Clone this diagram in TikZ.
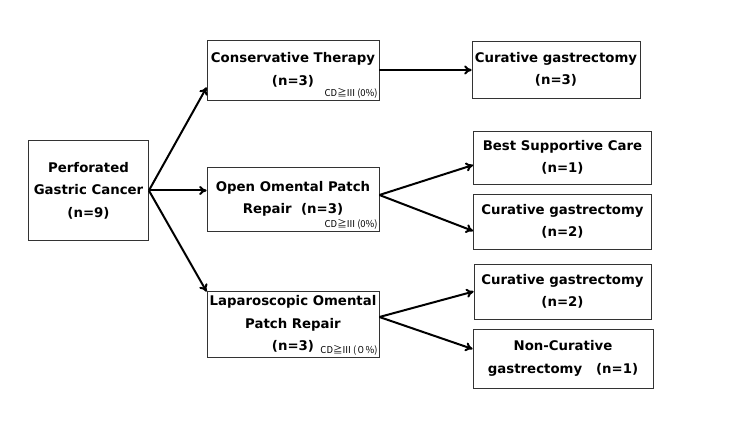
\documentclass[tikz,border=0pt]{standalone}
\usepackage{fontspec}
\setmainfont{DejaVu Sans}
\newfontfamily\jpfont{Noto Sans CJK JP}
\usetikzlibrary{arrows.meta}
\definecolor{edge}{HTML}{333333}
\tikzset{
  box/.style={draw=edge, line width=0.8pt, align=center, inner sep=0pt, font=\bfseries\fontsize{13.3}{22.5}\selectfont},
  flow/.style={-{To[length=2.6mm,width=3.2mm]}, draw=black, line width=2pt},
  cd/.style={font=\jpfont\fontsize{9.5}{10}\selectfont, anchor=south east, inner sep=1.5pt},
}
\begin{document}
\begin{tikzpicture}[x=1pt,y=-1pt]
\useasboundingbox (0,0) rectangle (750,422);
% first column
\node[box, minimum width=120pt, minimum height=100pt] (pgc) at (88.5,190.5) {Perforated\\Gastric Cancer\\(n=9)};
% second column
\node[box, minimum width=172pt, minimum height=60pt] (ct) at (293,70) {Conservative Therapy\\(n=3)};
\node[box, minimum width=172pt, minimum height=64pt] (oopr) at (293,199) {Open Omental Patch\\Repair\ \ (n=3)};
\node[box, minimum width=172pt, minimum height=66pt] (lopr) at (293,324) {Laparoscopic Omental\\Patch Repair\\(n=3)};
\node[cd] at (ct.south east) {CD≧III (0\%)};
\node[cd] at (oopr.south east) {CD≧III (0\%)};
\node[cd] at (lopr.south east) {CD≧III (０\%)};
% third column
\node[box, minimum width=168pt, minimum height=57pt] (cg1) at (556,69.5) {Curative gastrectomy\\(n=3)};
\node[box, minimum width=178pt, minimum height=53pt] (bsc) at (562.5,157.5) {Best Supportive Care\\(n=1)};
\node[box, minimum width=178pt, minimum height=55pt] (cg2) at (562.5,221.5) {Curative gastrectomy\\(n=2)};
\node[box, minimum width=177pt, minimum height=55pt] (cg3) at (562.5,291.5) {Curative gastrectomy\\(n=2)};
\node[box, minimum width=180pt, minimum height=59pt] (ncg) at (563,358.5) {Non-Curative\\gastrectomy\ \ \ (n=1)};
% arrows
\draw[flow] (pgc.east) -- ([yshift=13pt]ct.south west);
\draw[flow] (pgc.east) -- (oopr.west |- pgc.east);
\draw[flow] (pgc.east) -- ([yshift=-1pt]lopr.north west);
\draw[flow] (ct.east) -- (cg1.west |- ct.east);
\draw[flow] ([yshift=4pt]oopr.east) -- ([yshift=-7.5pt]bsc.west);
\draw[flow] ([yshift=4pt]oopr.east) -- ([yshift=-9.5pt]cg2.west);
\draw[flow] ([yshift=7pt]lopr.east) -- (cg3.west);
\draw[flow] ([yshift=7pt]lopr.east) -- ([yshift=9.5pt]ncg.west);
\end{tikzpicture}
\end{document}
